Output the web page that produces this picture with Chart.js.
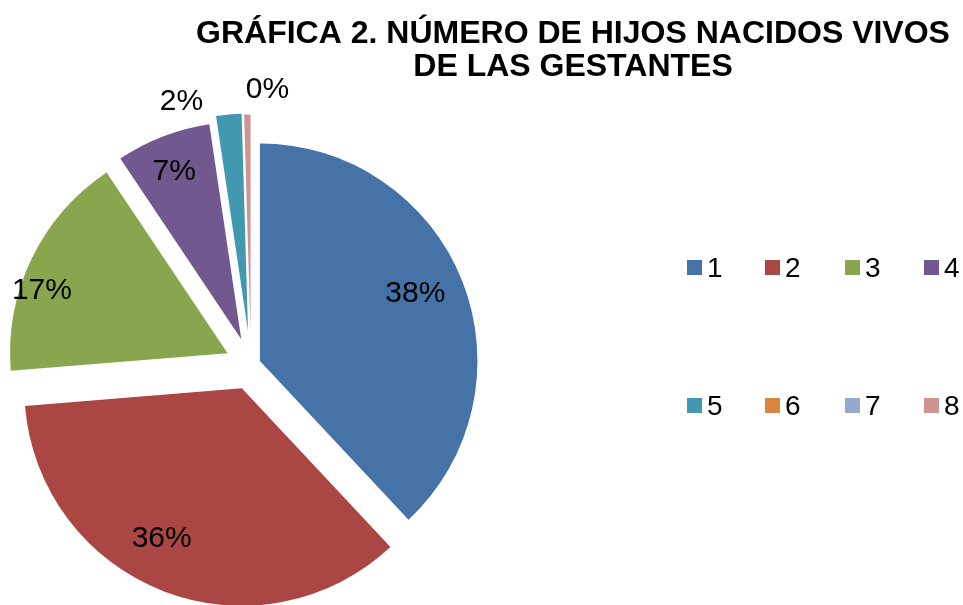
<!DOCTYPE html>
<html lang="es">
<head>
<meta charset="utf-8">
<title>Gráfica 2</title>
<script src="https://cdn.jsdelivr.net/npm/chart.js@4.4.1/dist/chart.umd.min.js"></script>
<style>
  html, body { margin: 0; padding: 0; background: #ffffff; }
  #wrap { position: relative; width: 963px; height: 605px; }
</style>
</head>
<body>
<div id="wrap"><canvas id="hijosChart"></canvas></div>
<script>
// Data (number of gestantes per number of live-born children)
const categories = ['1', '2', '3', '4', '5', '6', '7', '8'];
const counts = [81, 76, 36, 15, 4, 0, 0, 1];
const titleLines = ['GRÁFICA 2. NÚMERO DE HIJOS NACIDOS VIVOS', 'DE LAS GESTANTES'];

const sliceColors = ['#4572A7', '#AA4643', '#89A54E', '#71588F', '#4198AF', '#DB843D', '#93A9CF', '#D19392'];
const FONT = "'Liberation Sans', Arial, sans-serif";

// how far each slice is pulled out of the pie (px)
const explodePx = [9.6, 25.5, 26, 27, 33.5, 0, 0, 32.5];

// where each percentage sits: fraction of radius from the slice tip, angular nudge in degrees
const labelPlacement = [
  {r: 0.778, da: -1.75},
  {r: 0.784, da: 6.9},
  {r: 0.90, da: -7.3},
  {r: 0.832, da: -0.65},
  {r: 1.098, da: -11.1},
  {r: 0, da: 0},
  {r: 0, da: 0},
  {r: 1.115, da: 4.85},
];

const total = counts.reduce((a, b) => a + b, 0);

/**
 * Draw the slices pulled out one by one (Chart.js offset grows small slices)
 */
const explodePlugin = {
  id: 'explode',
  beforeDatasetDraw(chart, args) {
    const ctx = chart.ctx;
    args.meta.data.forEach((arc, i) => {
      if (!counts[i]) return;
      const mid = (arc.startAngle + arc.endAngle) / 2;
      ctx.save();
      ctx.translate(Math.cos(mid) * explodePx[i], Math.sin(mid) * explodePx[i]);
      arc.draw(ctx, chart.chartArea);
      ctx.restore();
    });
    return false;
  },
};

/**
 * Title, slice labels and the 4 x 2 legend grid
 */
const decorPlugin = {
  id: 'decor',
  afterDraw(chart) {
    const ctx = chart.ctx;
    ctx.save();

    // title
    ctx.fillStyle = '#000000';
    ctx.textAlign = 'center';
    ctx.textBaseline = 'alphabetic';
    ctx.font = `bold 32px ${FONT}`;
    ctx.fillText(titleLines[0], 573, 43);
    ctx.fillText(titleLines[1], 573, 76);

    // percentage labels
    ctx.font = `30px ${FONT}`;
    ctx.textBaseline = 'middle';
    const meta = chart.getDatasetMeta(0);
    meta.data.forEach((arc, i) => {
      if (!counts[i]) return;
      const p = arc.getProps(['x', 'y', 'startAngle', 'endAngle', 'outerRadius'], true);
      const place = labelPlacement[i];
      const mid = (p.startAngle + p.endAngle) / 2;
      const tipX = p.x + Math.cos(mid) * explodePx[i];
      const tipY = p.y + Math.sin(mid) * explodePx[i];
      const ang = mid + place.da * Math.PI / 180;
      const dist = place.r * p.outerRadius;
      const text = `${Math.round(counts[i] / total * 100)}%`;
      ctx.fillText(text, tipX + Math.cos(ang) * dist, tipY + Math.sin(ang) * dist);
    });

    // legend
    ctx.font = `28px ${FONT}`;
    ctx.textAlign = 'left';
    ctx.textBaseline = 'alphabetic';
    const colX = [687, 765, 845, 924];
    const rowY = [260, 398];
    categories.forEach((c, i) => {
      const x = colX[i % 4];
      const y = rowY[Math.floor(i / 4)];
      ctx.fillStyle = sliceColors[i];
      ctx.fillRect(x, y, 15, 15);
      ctx.fillStyle = '#000000';
      ctx.fillText(c, x + 20, y + 17);
    });

    ctx.restore();
  },
};

const initChart = () => {
  const ctx = document.getElementById('hijosChart').getContext('2d');
  new Chart(ctx, {
    type: 'pie',
    data: {
      labels: categories,
      datasets: [{
        data: counts,
        backgroundColor: sliceColors,
        borderWidth: 0,
      }],
    },
    options: {
      responsive: true,
      maintainAspectRatio: false,
      animation: false,
      radius: 217.5,
      layout: {
        padding: {left: 0, right: 461, top: 124, bottom: 0},
      },
      plugins: {
        legend: {display: false},
        title: {display: false},
        tooltip: {enabled: false},
      },
      events: [],
    },
    plugins: [explodePlugin, decorPlugin],
  });
};

initChart();
</script>
</body>
</html>
